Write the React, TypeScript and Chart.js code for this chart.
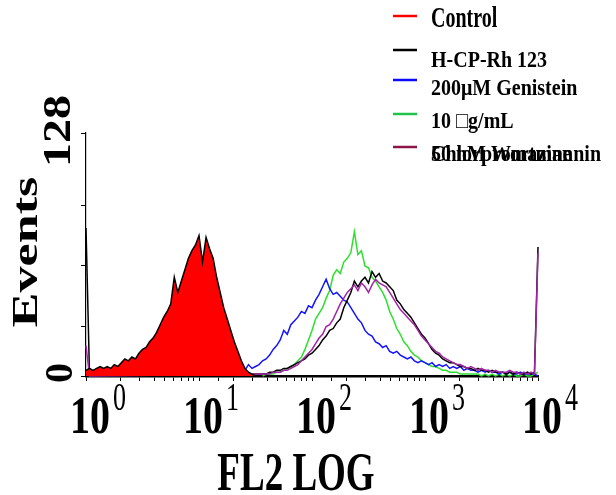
import React, { useEffect, useRef } from 'react';
import { Chart, registerables } from 'chart.js';

Chart.register(...registerables);

// ---------- data ----------
const CHANNEL_STEP = 2;
const CHANNELS_PER_DECADE = 64;

const xTickExponents = [0, 1, 2, 3, 4];
const yTickValues = [0, 26, 58, 90, 128];
const yEndLabels = ['0', '128'];

const legendLabels = [
  ['Control'],
  ['H-CP-Rh 123'],
  ['200μM Genistein'],
  ['10 \u25A1g/mL', 'Chlorpromazine'],
  ['50 nM Wortmannin'],
];
const legendColors = ['#ff0000', '#000000', '#0a0aff', '#22c24a', '#8c1446'];

const controlStart = 0;
const controlValues = [
  3, 4, 3, 4, 5, 4, 5, 4, 6, 5,
  7, 9, 8, 10, 9, 12, 14, 15, 18, 20,
  23, 27, 31, 34, 38, 52, 44, 50, 56, 62,
  66, 69, 74, 60, 73, 67, 62, 52, 44, 36,
  30, 24, 18, 13, 8, 4, 2, 1, 0,
];

const hcpLowStart = 0;
const hcpLowValues = [78, 0];
const hcpStart = 98;
const hcpValues = [
  1, 1, 1, 2, 2, 3, 3, 4, 4, 5,
  6, 7, 8, 9, 11, 12, 14, 16, 19, 21,
  24, 25, 28, 30, 36, 40, 44, 50, 47, 50,
  52, 49, 55, 52, 54, 50, 49, 47, 45, 40,
  38, 35, 33, 31, 28, 25, 22, 20, 17, 14,
  12, 11, 9, 8, 7, 7, 6, 5, 5, 4,
  4, 3, 4, 3, 3, 2, 3, 2, 2, 2,
  1, 2, 1, 2, 1, 1, 2, 1, 2, 68,
];

const genisteinStart = 80;
const genisteinValues = [
  1, 1, 2, 3, 4, 3, 6, 4, 5, 6,
  8, 9, 11, 14, 16, 19, 24, 22, 27, 29,
  31, 34, 33, 37, 36, 40, 43, 47, 51, 46,
  43, 44, 42, 40, 39, 36, 33, 30, 28, 24,
  22, 21, 18, 17, 15, 16, 13, 12, 13, 11,
  10, 9, 10, 8, 7, 8, 7, 6, 7, 5,
  6, 5, 6, 4, 5, 4, 5, 3, 4, 3,
  3, 2, 3, 2, 3, 2, 2, 1, 2, 1,
  2, 1, 1, 2, 1, 1, 1, 1, 0,
];

const chlorStart = 100;
const chlorValues = [
  0, 1, 1, 1, 2, 2, 3, 4, 5, 6,
  8, 10, 14, 19, 24, 30, 33, 36, 41, 45,
  53, 56, 54, 60, 62, 65, 76, 64, 66, 58,
  57, 52, 50, 47, 44, 40, 34, 30, 25, 22,
  18, 16, 13, 11, 10, 8, 7, 6, 5, 5,
  4, 3, 3, 2, 2, 2, 1, 1, 1, 1,
  1, 1, 0, 1, 0, 1, 0, 1, 0, 1,
  0, 1, 0, 0, 1, 0, 0, 1, 2,
];

const wortLowStart = 0;
const wortLowValues = [16, 0];
const wortStart = 98;
const wortValues = [
  1, 1, 1, 1, 2, 2, 2, 3, 3, 4,
  5, 6, 8, 10, 12, 14, 17, 20, 22, 26,
  27, 30, 34, 38, 41, 44, 46, 48, 45, 49,
  47, 44, 48, 51, 49, 48, 47, 44, 41, 38,
  35, 33, 31, 29, 27, 24, 21, 19, 17, 15,
  13, 12, 10, 9, 8, 7, 6, 6, 5, 4,
  5, 4, 3, 4, 3, 3, 2, 3, 2, 2,
  2, 3, 2, 2, 1, 2, 1, 2, 1, 65,
];

const toPoints = (start: number, values: number[]) =>
  values.map((v, i) => ({
    x: Math.pow(10, (start + i * CHANNEL_STEP) / CHANNELS_PER_DECADE),
    y: v,
  }));

// ---------- drawing helpers ----------
const SERIF = '"Liberation Serif", "Times New Roman", serif';

function drawStretched(
  ctx: CanvasRenderingContext2D,
  text: string,
  x: number,
  y: number,
  font: string,
  sx: number,
  sy: number,
  align: CanvasTextAlign,
  rotate = 0,
  color = '#000'
) {
  ctx.save();
  ctx.translate(x, y);
  if (rotate) ctx.rotate(rotate);
  ctx.scale(sx, sy);
  ctx.font = font;
  ctx.textAlign = align;
  ctx.textBaseline = 'alphabetic';
  ctx.fillStyle = color;
  ctx.fillText(text, 0, 0);
  ctx.restore();
}

const textPlugin = {
  id: 'figureText',
  afterDraw(chart: any) {
    const ctx: CanvasRenderingContext2D = chart.ctx;
    const xs = chart.scales.x;
    const ys = chart.scales.y;

    // x tick labels 10^n
    xTickExponents.forEach((e) => {
      const px = xs.getPixelForValue(Math.pow(10, e));
      const baseFont = `bold 40px ${SERIF}`;
      ctx.save();
      ctx.font = baseFont;
      const w = ctx.measureText('10').width;
      ctx.restore();
      const cx = px + 4;
      drawStretched(ctx, '10', cx, 433, baseFont, 1, 1.3, 'center');
      drawStretched(ctx, String(e), cx + w / 2 + 3, 410, `26px ${SERIF}`, 1, 1.5, 'left');
    });

    // x title
    drawStretched(ctx, 'FL2 LOG', 296, 490, `bold 37px ${SERIF}`, 1, 1.5, 'center');

    // y end labels (rotated)
    const y0 = ys.getPixelForValue(0);
    const yTop = ys.getPixelForValue(128);
    drawStretched(ctx, yEndLabels[0], 72, y0 - 3, `bold 40px ${SERIF}`, 1, 1, 'center', -Math.PI / 2);
    drawStretched(ctx, yEndLabels[1], 70, yTop - 2, `bold 40px ${SERIF}`, 1.2, 1, 'center', -Math.PI / 2);

    // y title
    drawStretched(ctx, 'Events', 37, 252, `bold 36px ${SERIF}`, 1.45, 1, 'center', -Math.PI / 2);

    // legend
    const lineYs = [16, 50, 80, 114, 147];
    const baseYs = [27, 67, 95, 128, 161];
    const stretch = [1.45, 1.15, 1.15, 1.15, 1.15];
    legendLabels.forEach((lines, i) => {
      ctx.save();
      ctx.strokeStyle = legendColors[i];
      ctx.lineWidth = 2.5;
      ctx.beginPath();
      ctx.moveTo(393, lineYs[i]);
      ctx.lineTo(417, lineYs[i]);
      ctx.stroke();
      ctx.restore();
      lines.forEach((t, j) => {
        drawStretched(ctx, t, 431, baseYs[i] + j * 33, `bold 20px ${SERIF}`, 1, stretch[i], 'left');
      });
    });
  },
};

export default function App() {
  const ref = useRef<HTMLCanvasElement>(null);

  useEffect(() => {
    if (!ref.current) return;
    const lineBase = {
      fill: false,
      borderWidth: 1.5,
      pointRadius: 0,
      tension: 0,
      clip: false as any,
    };
    const chart = new Chart(ref.current, {
      type: 'line',
      data: {
        datasets: [
          {
            ...lineBase,
            label: 'Control',
            data: toPoints(controlStart, controlValues),
            borderColor: '#000000',
            backgroundColor: '#ff0000',
            fill: 'origin',
            order: 0,
          },
          {
            ...lineBase,
            label: 'H-CP-Rh 123',
            data: [...toPoints(hcpLowStart, hcpLowValues), ...toPoints(hcpStart, hcpValues)],
            borderColor: '#000000',
            order: 2,
          },
          {
            ...lineBase,
            label: '200μM Genistein',
            data: toPoints(genisteinStart, genisteinValues),
            borderColor: '#1414ff',
            order: 3,
          },
          {
            ...lineBase,
            label: '10 μg/mL Chlorpromazine',
            data: toPoints(chlorStart, chlorValues),
            borderColor: '#2de02d',
            order: 4,
          },
          {
            ...lineBase,
            label: '50 nM Wortmannin',
            data: [...toPoints(wortLowStart, wortLowValues), ...toPoints(wortStart, wortValues)],
            borderColor: '#a424a8',
            order: 1,
          },
        ] as any,
      },
      options: {
        responsive: false,
        animation: false,
        layout: { padding: { left: 81, right: 78, top: 133, bottom: 114 } },
        plugins: { legend: { display: false }, tooltip: { enabled: false } },
        scales: {
          x: {
            type: 'logarithmic',
            min: 1,
            max: 10000,
            ticks: { display: false },
            grid: { drawOnChartArea: false, drawTicks: true, tickLength: 5, color: '#000', lineWidth: 1 },
            border: { display: true, color: '#000', width: 2.5 },
          },
          y: {
            type: 'linear',
            min: 0,
            max: 128,
            afterBuildTicks: (axis: any) => {
              axis.ticks = yTickValues.map((v) => ({ value: v }));
            },
            ticks: { display: false },
            grid: { drawOnChartArea: false, drawTicks: true, tickLength: 5, color: '#000', lineWidth: 1 },
            border: { display: true, color: '#000', width: 1.2 },
          },
        },
      } as any,
      plugins: [textPlugin],
    });
    return () => chart.destroy();
  }, []);

  return (
    <div style={{ position: 'absolute', left: 0, top: 0, width: 616, height: 495, background: '#fff' }}>
      <canvas ref={ref} width={616} height={495} style={{ display: 'block' }} />
    </div>
  );
}
